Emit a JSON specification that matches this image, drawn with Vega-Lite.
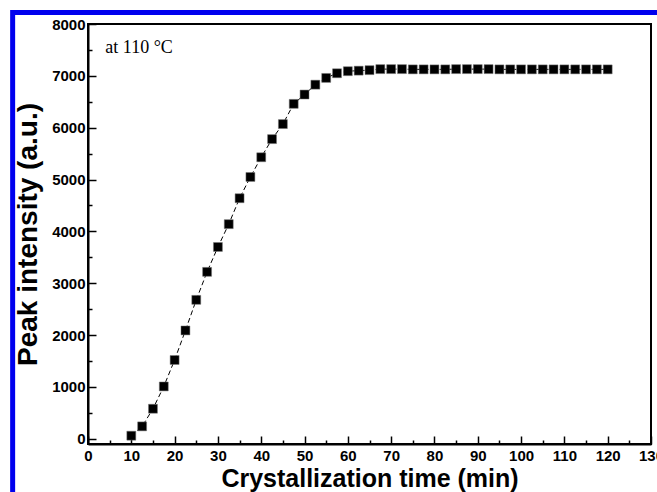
{
  "$schema": "https://vega.github.io/schema/vega-lite/v6.json",
  "width": 563,
  "height": 420,
  "autosize": "none",
  "padding": {"left": 88, "top": 24, "right": 6, "bottom": 48},
  "background": "white",
  "config": {
    "view": {"stroke": "black", "strokeWidth": 2},
    "axis": {
      "domainColor": "black", "domainWidth": 2,
      "tickColor": "black", "tickWidth": 1.5,
      "labelFont": "Liberation Sans", "labelFontWeight": "bold", "labelFontSize": 15, "labelColor": "black",
      "titleFont": "Liberation Sans", "titleFontWeight": "bold", "titleFontSize": 25, "titleColor": "black",
      "grid": false
    }
  },
  "data": {"values": [
    {"t": 10, "I": 60}, {"t": 12.5, "I": 240}, {"t": 15, "I": 580}, {"t": 17.5, "I": 1010},
    {"t": 20, "I": 1520}, {"t": 22.5, "I": 2090}, {"t": 25, "I": 2680}, {"t": 27.5, "I": 3220},
    {"t": 30, "I": 3700}, {"t": 32.5, "I": 4140}, {"t": 35, "I": 4640}, {"t": 37.5, "I": 5050},
    {"t": 40, "I": 5430}, {"t": 42.5, "I": 5780}, {"t": 45, "I": 6070}, {"t": 47.5, "I": 6460},
    {"t": 50, "I": 6640}, {"t": 52.5, "I": 6830}, {"t": 55, "I": 6960}, {"t": 57.5, "I": 7050},
    {"t": 60, "I": 7090}, {"t": 62.5, "I": 7100}, {"t": 65, "I": 7110}, {"t": 67.5, "I": 7130},
    {"t": 70, "I": 7130}, {"t": 72.5, "I": 7130}, {"t": 75, "I": 7125}, {"t": 77.5, "I": 7125},
    {"t": 80, "I": 7125}, {"t": 82.5, "I": 7125}, {"t": 85, "I": 7130}, {"t": 87.5, "I": 7130},
    {"t": 90, "I": 7130}, {"t": 92.5, "I": 7130}, {"t": 95, "I": 7125}, {"t": 97.5, "I": 7125},
    {"t": 100, "I": 7125}, {"t": 102.5, "I": 7125}, {"t": 105, "I": 7125}, {"t": 107.5, "I": 7125},
    {"t": 110, "I": 7125}, {"t": 112.5, "I": 7125}, {"t": 115, "I": 7125}, {"t": 117.5, "I": 7125},
    {"t": 120, "I": 7125}
  ]},
  "resolve": {"axis": {"x": "independent", "y": "independent"}},
  "layer": [
    {
      "mark": {"type": "line", "color": "black", "strokeWidth": 1, "strokeDash": [5, 3]},
      "encoding": {
        "x": {"field": "t", "type": "quantitative",
          "scale": {"domain": [0, 130], "nice": false, "zero": false},
          "axis": {"orient": "bottom", "title": "Crystallization time (min)", "values": [0,10,20,30,40,50,60,70,80,90,100,110,120,130],
            "format": "d", "tickSize": -8, "labelPadding": 12, "labelFlush": false, "titlePadding": 3, "labelOverlap": false}},
        "y": {"field": "I", "type": "quantitative",
          "scale": {"domain": [-100, 8000], "nice": false, "zero": false},
          "axis": {"orient": "left", "title": "Peak intensity (a.u.)", "titleFontSize": 28, "values": [0,1000,2000,3000,4000,5000,6000,7000,8000],
            "format": "d", "tickSize": -8, "labelPadding": 11, "titlePadding": 9, "labelOverlap": false}}
      }
    },
    {
      "mark": {"type": "point", "shape": "square", "filled": true, "size": 80, "color": "black", "opacity": 1, "stroke": "#777", "strokeWidth": 0.5},
      "encoding": {
        "x": {"field": "t", "type": "quantitative",
          "axis": {"orient": "bottom", "title": null, "labels": false, "domain": false, "values": [5,15,25,35,45,55,65,75,85,95,105,115,125], "tickSize": -4}},
        "y": {"field": "I", "type": "quantitative",
          "axis": {"orient": "left", "title": null, "labels": false, "domain": false, "values": [500,1500,2500,3500,4500,5500,6500,7500], "tickSize": -4}}
      }
    },
    {
      "data": {"values": [{"label": "at 110 °C"}]},
      "mark": {"type": "text", "font": "Liberation Serif", "fontSize": 18, "fontWeight": "normal", "align": "left", "baseline": "alphabetic", "color": "black"},
      "encoding": {
        "x": {"datum": 4.0, "type": "quantitative", "axis": null},
        "y": {"datum": 7440, "type": "quantitative", "axis": null},
        "text": {"field": "label"}
      }
    },
    {
      "data": {"values": [{}]},
      "mark": {"type": "rect", "fill": null, "stroke": "#0000ee", "strokeWidth": 5, "clip": false},
      "encoding": {
        "x": {"datum": -17.4, "type": "quantitative", "axis": null},
        "x2": {"datum": 400},
        "y": {"datum": 8222, "type": "quantitative", "axis": null},
        "y2": {"datum": -30000}
      }
    }
  ]
}
